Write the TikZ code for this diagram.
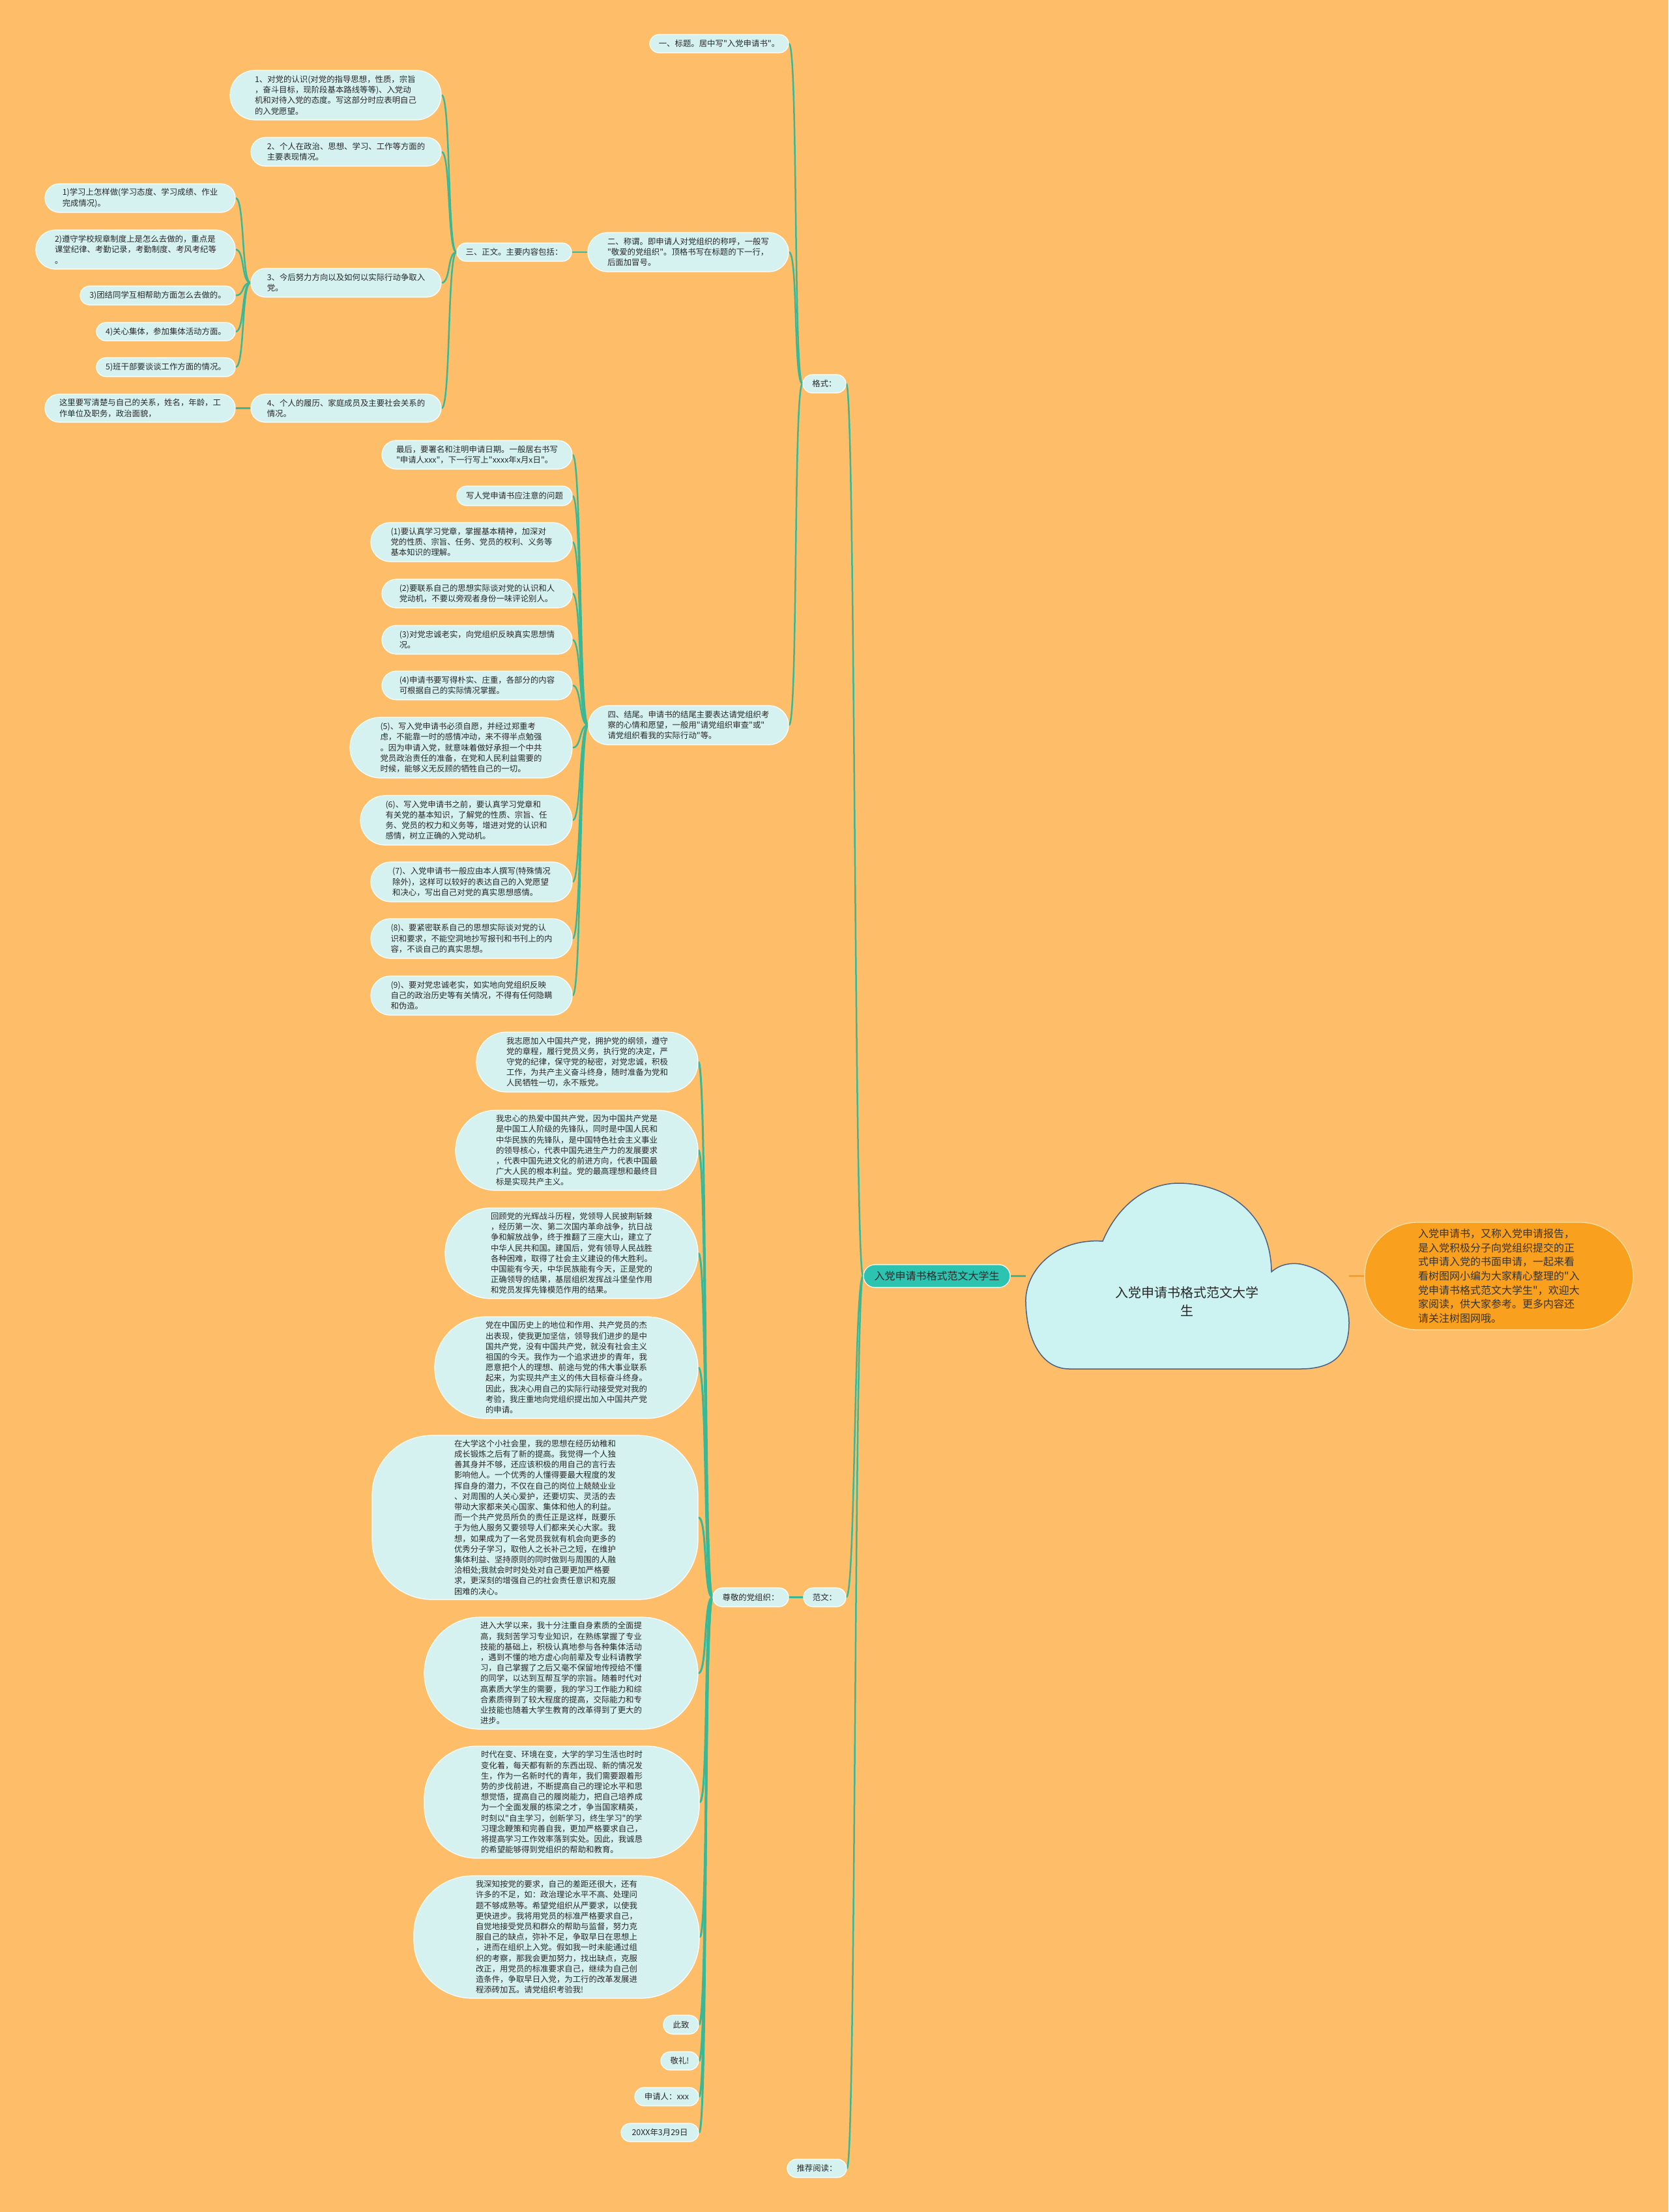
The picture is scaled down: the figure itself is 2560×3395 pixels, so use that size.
\documentclass[tikz,border=0pt]{standalone}
\usepackage{fontspec}
\setmainfont{Noto Sans CJK SC}
\newfontfamily\cjkf{Noto Sans CJK SC}
\usetikzlibrary{calc}
\definecolor{bgc}{RGB}{254,190,105}
\definecolor{nodefill}{RGB}{213,242,240}
\definecolor{cloudfill}{RGB}{204,243,241}
\definecolor{cloudline}{RGB}{75,96,128}
\definecolor{linec}{RGB}{58,184,150}
\definecolor{mainfill}{RGB}{44,195,176}
\definecolor{summfill}{RGB}{249,161,30}
\definecolor{summline}{RGB}{253,225,170}
\definecolor{orangeline}{RGB}{245,160,45}
\definecolor{txt}{RGB}{40,40,40}
\newcommand{\smallfs}{\cjkf\fontsize{12.4pt}{16.2pt}\selectfont}
\pgfdeclarelayer{back}
\pgfdeclarelayer{edges}
\pgfsetlayers{back,edges,main}
\begin{document}
\begin{tikzpicture}[x=1pt,y=-1pt,
  box/.style={draw=white, line width=1.2pt, fill=nodefill, inner sep=0pt, align=left, text=txt, font=\smallfs},
  sz/.style n args={3}{minimum width=#1pt, minimum height=#2pt, rounded corners=#3pt},
  conn/.style={draw=linec, line width=2.5pt, line cap=round, to path={.. controls +(-14,0) and +(14,0) .. (\tikztotarget) \tikztonodes}},
  thickconn/.style={conn, line width=3pt}]
\begin{pgfonlayer}{back}
\fill[bgc] (0,0) rectangle (2560,3395);
\end{pgfonlayer}
\useasboundingbox (0,0) rectangle (2560,3395);

% root cloud
\draw[fill=cloudfill, draw=cloudline, line width=1.5pt]
 (1641,2101) .. controls (1600,2101) and (1576,2060) .. (1574,2000)
 .. controls (1572,1950) and (1620,1900) .. (1692,1905)
 .. controls (1715,1850) and (1760,1816) .. (1808,1816)
 .. controls (1880,1816) and (1950,1860) .. (1951,1952)
 .. controls (1965,1940) and (1980,1938) .. (1995,1940)
 .. controls (2045,1950) and (2070,1990) .. (2070,2030)
 .. controls (2070,2080) and (2045,2101) .. (1995,2101)
 -- cycle;
\node[inner sep=0pt, minimum width=496pt, minimum height=285pt] (root) at (1822,1958.5) {};
\node[font=\cjkf\fontsize{20pt}{28pt}\selectfont, align=center, text=txt] (roottext) at (1821,1997) {入党申请书格式范文大学\\生};

\node[box, sz={412}{165}{82}, fill=summfill, draw=summline, font=\cjkf\fontsize{16pt}{21.7pt}\selectfont, text=black!80] (summ) at (2300,1958.5) {入党申请书，又称入党申请报告，\\是入党积极分子向党组织提交的正\\式申请入党的书面申请，一起来看\\看树图网小编为大家精心整理的"入\\党申请书格式范文大学生"，欢迎大\\家阅读，供大家参考。更多内容还\\请关注树图网哦。};

\node[box, sz={225}{35}{17.5}, fill=mainfill, font=\cjkf\fontsize{16pt}{20pt}\selectfont] (main) at (1437.5,1958.5) {入党申请书格式范文大学生};

% format branch
\node[box, sz={66}{28}{14}] (geshi) at (1265,589) {格式：};
\node[box, sz={213}{28}{14}] (t1) at (1103.5,67) {一、标题。居中写"入党申请书"。};
\node[box, sz={308}{60}{30}] (t2) at (1056,387) {二、称谓。即申请人对党组织的称呼，一般写\\"敬爱的党组织"。顶格书写在标题的下一行，\\后面加冒号。};
\node[box, sz={176}{28}{14}] (t3) at (789,387) {三、正文。主要内容包括：};
\node[box, sz={307}{60}{30}] (t4) at (1056.5,1113) {四、结尾。申请书的结尾主要表达请党组织考\\察的心情和愿望，一般用"请党组织审查"或"\\请党组织看我的实际行动"等。};

\node[box, sz={324}{76}{38}] (z1) at (515,146) {1、对党的认识(对党的指导思想，性质，宗旨\\，奋斗目标，现阶段基本路线等等)、入党动\\机和对待入党的态度。写这部分时应表明自己\\的入党愿望。};
\node[box, sz={292}{44}{22}] (z2) at (531,233) {2、个人在政治、思想、学习、工作等方面的\\主要表现情况。};
\node[box, sz={292}{44}{22}] (z3) at (531,434) {3、今后努力方向以及如何以实际行动争取入\\党。};
\node[box, sz={292}{43}{21.5}] (z4) at (531,626.5) {4、个人的履历、家庭成员及主要社会关系的\\情况。};

\node[box, sz={292}{44}{22}] (y1) at (215,304) {1)学习上怎样做(学习态度、学习成绩、作业\\完成情况)。};
\node[box, sz={306}{60}{30}] (y2) at (208,383) {2)遵守学校规章制度上是怎么去做的，重点是\\课堂纪律、考勤记录，考勤制度、考风考纪等\\。};
\node[box, sz={238}{29}{14.5}] (y3) at (242,453.5) {3)团结同学互相帮助方面怎么去做的。};
\node[box, sz={213}{28}{14}] (y4) at (254.5,509) {4)关心集体，参加集体活动方面。};
\node[box, sz={213}{29}{14.5}] (y5) at (254.5,563.5) {5)班干部要谈谈工作方面的情况。};
\node[box, sz={292}{43}{21.5}] (y6) at (215,626.5) {这里要写清楚与自己的关系，姓名，年龄，工\\作单位及职务，政治面貌，};

\node[box, sz={292}{44}{22}] (w0) at (732,698) {最后，要署名和注明申请日期。一般居右书写\\"申请人xxx"，下一行写上"xxxx年x月x日"。};
\node[box, sz={177}{30}{15}] (w1) at (789.5,761) {写人党申请书应注意的问题};
\node[box, sz={309}{60}{30}] (w2) at (723.5,832) {(1)要认真学习党章，掌握基本精神，加深对\\党的性质、宗旨、任务、党员的权利、义务等\\基本知识的理解。};
\node[box, sz={292}{44}{22}] (w3) at (732,911) {(2)要联系自己的思想实际谈对党的认识和人\\党动机，不要以旁观者身份一味评论别人。};
\node[box, sz={292}{44}{22}] (w4) at (732,982) {(3)对党忠诚老实，向党组织反映真实思想情\\况。};
\node[box, sz={292}{44}{22}] (w5) at (732,1052) {(4)申请书要写得朴实、庄重，各部分的内容\\可根据自己的实际情况掌握。};
\node[box, sz={341}{93}{46.5}] (w6) at (707.5,1147.5) {(5)、写入党申请书必须自愿，并经过郑重考\\虑，不能靠一时的感情冲动，来不得半点勉强\\。因为申请入党，就意味着做好承担一个中共\\党员政治责任的准备，在党和人民利益需要的\\时候，能够义无反顾的牺牲自己的一切。};
\node[box, sz={325}{76}{38}] (w7) at (715.5,1259) {(6)、写入党申请书之前，要认真学习党章和\\有关党的基本知识，了解党的性质、宗旨、任\\务、党员的权力和义务等，增进对党的认识和\\感情，树立正确的入党动机。};
\node[box, sz={309}{61}{30.5}] (w8) at (723.5,1353.5) {(7)、入党申请书一般应由本人撰写(特殊情况\\除外)，这样可以较好的表达自己的入党愿望\\和决心，写出自己对党的真实思想感情。};
\node[box, sz={309}{61}{30.5}] (w9) at (723.5,1440.5) {(8)、要紧密联系自己的思想实际谈对党的认\\识和要求，不能空洞地抄写报刊和书刊上的内\\容，不谈自己的真实思想。};
\node[box, sz={309}{60}{30}] (w10) at (723.5,1528) {(9)、要对党忠诚老实，如实地向党组织反映\\自己的政治历史等有关情况，不得有任何隐瞒\\和伪造。};

% sample branch
\node[box, sz={65}{29}{14.5}] (fanwen) at (1265.5,2451.5) {范文：};
\node[box, sz={116}{29}{14.5}] (zunjing) at (1152,2451.5) {尊敬的党组织：};
\node[box, sz={340}{92}{46}] (pa) at (901,1630) {我志愿加入中国共产党，拥护党的纲领，遵守\\党的章程，履行党员义务，执行党的决定，严\\守党的纪律，保守党的秘密，对党忠诚，积极\\工作，为共产主义奋斗终身，随时准备为党和\\人民牺牲一切，永不叛党。};
\node[box, sz={372}{123}{61.5}] (pb) at (885,1765.5) {我忠心的热爱中国共产党，因为中国共产党是\\是中国工人阶级的先锋队，同时是中国人民和\\中华民族的先锋队，是中国特色社会主义事业\\的领导核心，代表中国先进生产力的发展要求\\，代表中国先进文化的前进方向，代表中国最\\广大人民的根本利益。党的最高理想和最终目\\标是实现共产主义。};
\node[box, sz={388}{139}{69.5}] (pc) at (877,1923.5) {回顾党的光辉战斗历程，党领导人民披荆斩棘\\，经历第一次、第二次国内革命战争，抗日战\\争和解放战争，终于推翻了三座大山，建立了\\中华人民共和国。建国后，党有领导人民战胜\\各种困难，取得了社会主义建设的伟大胜利。\\中国能有今天，中华民族能有今天，正是党的\\正确领导的结果，基层组织发挥战斗堡垒作用\\和党员发挥先锋模范作用的结果。};
\node[box, sz={404}{156}{78}] (pd) at (869,2099) {党在中国历史上的地位和作用、共产党员的杰\\出表现，使我更加坚信，领导我们进步的是中\\国共产党，没有中国共产党，就没有社会主义\\祖国的今天。我作为一个追求进步的青年，我\\愿意把个人的理想、前途与党的伟大事业联系\\起来，为实现共产主义的伟大目标奋斗终身。\\因此，我决心用自己的实际行动接受党对我的\\考验，我庄重地向党组织提出加入中国共产党\\的申请。};
\node[box, sz={500}{252}{92}] (pe) at (821,2329) {在大学这个小社会里，我的思想在经历幼稚和\\成长锻炼之后有了新的提高。我觉得一个人独\\善其身并不够，还应该积极的用自己的言行去\\影响他人。一个优秀的人懂得要最大程度的发\\挥自身的潜力，不仅在自己的岗位上兢兢业业\\、对周围的人关心爱护，还要切实、灵活的去\\带动大家都来关心国家、集体和他人的利益。\\而一个共产党员所负的责任正是这样，既要乐\\于为他人服务又要领导人们都来关心大家。我\\想，如果成为了一名党员我就有机会向更多的\\优秀分子学习，取他人之长补己之短，在维护\\集体利益、坚持原则的同时做到与周围的人融\\洽相处;我就会时时处处对自己要更加严格要\\求，更深刻的增强自己的社会责任意识和克服\\困难的决心。};
\node[box, sz={420}{172}{86}] (pf) at (861,2568) {进入大学以来，我十分注重自身素质的全面提\\高，我刻苦学习专业知识，在熟练掌握了专业\\技能的基础上，积极认真地参与各种集体活动\\，遇到不懂的地方虚心向前辈及专业科请教学\\习，自己掌握了之后又毫不保留地传授给不懂\\的同学，以达到互帮互学的宗旨。随着时代对\\高素质大学生的需要，我的学习工作能力和综\\合素质得到了较大程度的提高，交际能力和专\\业技能也随着大学生教育的改革得到了更大的\\进步。};
\node[box, sz={422}{172}{80}] (pg) at (862,2766) {时代在变、环境在变，大学的学习生活也时时\\变化着，每天都有新的东西出现、新的情况发\\生，作为一名新时代的青年，我们需要跟着形\\势的步伐前进，不断提高自己的理论水平和思\\想觉悟，提高自己的履岗能力，把自己培养成\\为一个全面发展的栋梁之才，争当国家精英，\\时刻以"自主学习，创新学习，终生学习"的学\\习理念鞭策和完善自我，更加严格要求自己，\\将提高学习工作效率落到实处。因此，我诚恳\\的希望能够得到党组织的帮助和教育。};
\node[box, sz={438}{188}{90}] (ph) at (854,2973) {我深知按党的要求，自己的差距还很大，还有\\许多的不足，如：政治理论水平不高、处理问\\题不够成熟等。希望党组织从严要求，以使我\\更快进步。我将用党员的标准严格要求自己，\\自觉地接受党员和群众的帮助与监督，努力克\\服自己的缺点，弥补不足，争取早日在思想上\\，进而在组织上入党。假如我一时未能通过组\\织的考察，那我会更加努力，找出缺点，克服\\改正，用党员的标准要求自己，继续为自己创\\造条件，争取早日入党，为工行的改革发展进\\程添砖加瓦。请党组织考验我!};
\node[box, sz={54}{29}{14.5}] (cz) at (1045,3107.5) {此致};
\node[box, sz={58}{28}{14}] (jl) at (1043,3163) {敬礼!};
\node[box, sz={98}{28}{14}] (sqr) at (1023,3218) {申请人：xxx};
\node[box, sz={119}{28}{14}] (dt) at (1012.5,3273) {20XX年3月29日};
\node[box, sz={91}{28}{14}] (tj) at (1253.5,3328) {推荐阅读：};

\begin{pgfonlayer}{edges}
\draw[draw=linec, line width=2.5pt] (main.east) -- (root.west);
\draw[draw=orangeline, line width=2.5pt] (root.east) -- (summ.west);
\foreach \c in {geshi,fanwen,tj} \draw[conn] (main.west) to (\c.east);
\foreach \c in {t1,t2,t4} \draw[conn] (geshi.west) to (\c.east);
\draw[conn] (t2.west) to (t3.east);
\foreach \c in {z1,z2,z3,z4} \draw[conn] (t3.west) to (\c.east);
\foreach \c in {y1,y2,y3,y4,y5} \draw[conn] (z3.west) to (\c.east);
\draw[conn] (z4.west) to (y6.east);
\foreach \c in {w0,w1,w2,w3,w4,w5,w6,w7,w8,w9,w10} \draw[conn] (t4.west) to (\c.east);
\draw[conn] (fanwen.west) to (zunjing.east);
\foreach \c in {pa,pb,pc,pd,pe,pf,pg,ph,cz,jl,sqr,dt} \draw[thickconn] (zunjing.west) to (\c.east);
\end{pgfonlayer}
\end{tikzpicture}
\end{document}
